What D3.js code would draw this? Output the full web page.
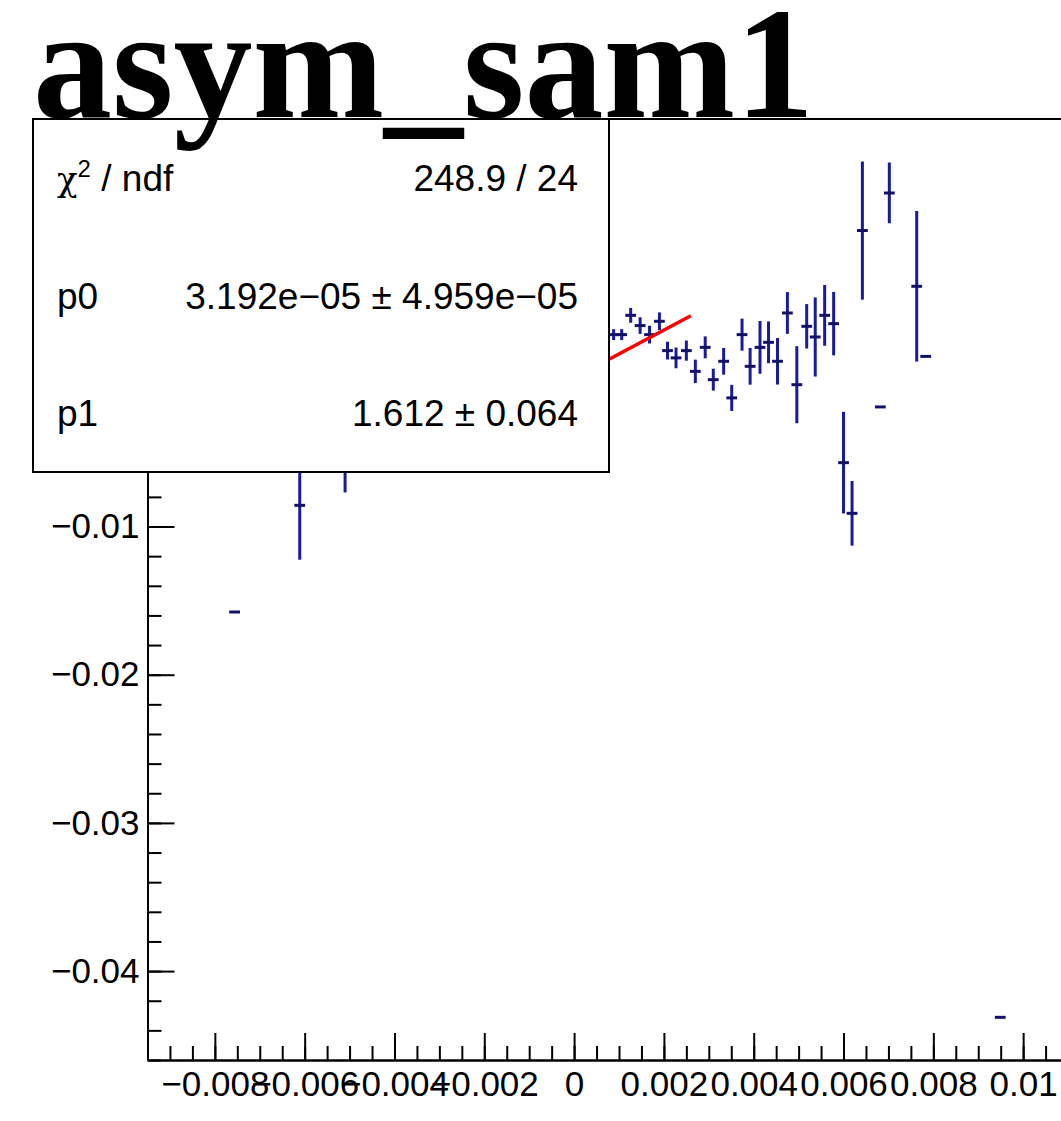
<!DOCTYPE html>
<html lang="en">
<head>
<meta charset="UTF-8">
<title>asym_sam1</title>
<script src="https://d3js.org/d3.v7.min.js"></script>
<style>
  body { margin: 0; background: #fff; }
  svg { display: block; }
</style>
</head>
<body>
<div id="chart"></div>
<script>
// bin centres, values and vertical errors
const xValues = [-0.00756, -0.00611, -0.00510,
  0.00088, 0.00106, 0.00126, 0.00147, 0.00168, 0.00190, 0.00208, 0.00227, 0.00250, 0.00270,
  0.00292, 0.00310, 0.00333, 0.00351, 0.00374, 0.00392, 0.00414, 0.00433, 0.00453, 0.00475,
  0.00496, 0.00518, 0.00537, 0.00558, 0.00578, 0.00600, 0.00619, 0.00642, 0.00682, 0.00702,
  0.00763, 0.00783, 0.00949];
const yValues = [-0.01576, -0.00857, -0.00450,
  0.00295, 0.00295, 0.00425, 0.00356, 0.00295, 0.00385, 0.00187, 0.00138, 0.00187, 0.00047,
  0.00209, -0.00009, 0.00115, -0.00132, 0.00295, 0.00081, 0.00209, 0.00243, 0.00115, 0.00441,
  -0.00043, 0.00351, 0.00279, 0.00425, 0.00369, -0.00569, -0.00911, 0.00997, -0.00193, 0.01251,
  0.00621, 0.00148, -0.04312];
const yErrors = [0, 0.00367, 0.00320,
  0.00037, 0.00037, 0.00050, 0.00056, 0.00060, 0.00060, 0.00060, 0.00070, 0.00068, 0.00079,
  0.00074, 0.00074, 0.00090, 0.00088, 0.00108, 0.00124, 0.00178, 0.00141, 0.00157, 0.00141,
  0.00260, 0.00150, 0.00267, 0.00205, 0.00214, 0.00343, 0.00218, 0.00466, 0, 0.00205,
  0.00508, 0, 0];
const binHalfWidth = 0.00012;

// fit pol1: p0 + p1*x
const fitP0 = 3.192e-05;
const fitP1 = 1.612;
const fitRange = [-0.0026, 0.0026];

const title = "asym_sam1";
const statLabels = ["χ2 / ndf", "p0", "p1"];
const statValues = ["248.9 / 24", "3.192e\u221205 \u00b1 4.959e\u221205", "1.612 \u00b1 0.064"];

const xDomain = [-0.0095, 0.0115];
const yDomain = [-0.046, 0.0175];
const xTicks = [-0.008, -0.006, -0.004, -0.002, 0, 0.002, 0.004, 0.006, 0.008, 0.01];
const xTickLabels = ["\u22120.008", "\u22120.006", "\u22120.004", "\u22120.002", "0", "0.002", "0.004", "0.006", "0.008", "0.01"];
const yTicks = [-0.04, -0.03, -0.02, -0.01, 0, 0.01];
const yTickLabels = ["\u22120.04", "\u22120.03", "\u22120.02", "\u22120.01", "0", "0.01"];

const width = 1061, height = 1121;
const plotL = 147.5, plotR = 1090.5, plotT = 119, plotB = 1060;
const blue = "#1a1a9e";

const svg = d3.select("#chart").append("svg")
  .attr("width", width).attr("height", height);

const x = d3.scaleLinear().domain(xDomain).range([plotL, plotR]);
const y = d3.scaleLinear().domain(yDomain).range([plotB, plotT]);

svg.append("defs").append("clipPath").attr("id", "frame")
  .append("rect").attr("x", plotL).attr("y", plotT)
  .attr("width", plotR - plotL).attr("height", plotB - plotT);

// frame top line
svg.append("line")
  .attr("x1", plotL).attr("x2", plotR).attr("y1", plotT).attr("y2", plotT)
  .attr("stroke", "#000").attr("stroke-width", 2);

// axes, ticks pointing inwards
const xMinor = d3.range(-0.0095, 0.0115, 0.0005);
const yMinor = d3.range(-0.046, 0.0175, 0.002);

const xAxisMinor = svg.append("g").attr("transform", `translate(0,${plotB})`)
  .call(d3.axisBottom(x).tickValues(xMinor).tickSizeInner(-14).tickSizeOuter(0).tickFormat(""));
const xAxis = svg.append("g").attr("transform", `translate(0,${plotB})`)
  .call(d3.axisBottom(x).tickValues(xTicks).tickSizeInner(-27).tickSizeOuter(0)
    .tickPadding(11).tickFormat((d, i) => xTickLabels[i]));

const yAxisMinor = svg.append("g").attr("transform", `translate(${plotL},0)`)
  .call(d3.axisLeft(y).tickValues(yMinor).tickSizeInner(-14).tickSizeOuter(0).tickFormat(""));
const yAxis = svg.append("g").attr("transform", `translate(${plotL},0)`)
  .call(d3.axisLeft(y).tickValues(yTicks).tickSizeInner(-27).tickSizeOuter(0)
    .tickPadding(8).tickFormat((d, i) => yTickLabels[i]));

[xAxisMinor, xAxis, yAxisMinor, yAxis].forEach(g => {
  g.attr("font-family", "'Liberation Sans', Arial, sans-serif").attr("font-size", 35);
  g.selectAll("line").attr("stroke", "#000").attr("stroke-width", 2);
  g.select(".domain").attr("stroke", "#000").attr("stroke-width", 2);
  g.selectAll("text").attr("fill", "#000");
});

// data points with error bars
const pts = xValues.map((v, i) => ({ x: v, y: yValues[i], e: yErrors[i] }));
const data = svg.append("g").attr("clip-path", "url(#frame)");

data.selectAll(".ev").data(pts.filter(d => d.e > 0)).join("line")
  .attr("class", "ev")
  .attr("x1", d => x(d.x)).attr("x2", d => x(d.x))
  .attr("y1", d => y(d.y - d.e)).attr("y2", d => y(d.y + d.e))
  .attr("stroke", blue).attr("stroke-width", 3);

data.selectAll(".eh").data(pts).join("line")
  .attr("class", "eh")
  .attr("x1", d => x(d.x - binHalfWidth)).attr("x2", d => x(d.x + binHalfWidth))
  .attr("y1", d => y(d.y)).attr("y2", d => y(d.y))
  .attr("stroke", "#121268").attr("stroke-width", 3);

// fit line
data.append("path")
  .datum(fitRange)
  .attr("d", d3.line().x(d => x(d)).y(d => y(fitP0 + fitP1 * d)))
  .attr("fill", "none").attr("stroke", "#ff0000").attr("stroke-width", 3.5);

// stat box
const box = { x: 33, y: 119, w: 576, h: 353 };
const stats = svg.append("g").attr("font-family", "'Liberation Sans', Arial, sans-serif")
  .attr("font-size", 37).attr("fill", "#000");
stats.append("rect")
  .attr("x", box.x).attr("y", box.y).attr("width", box.w).attr("height", box.h)
  .attr("fill", "#fff").attr("stroke", "#000").attr("stroke-width", 2);

const rowH = box.h / statLabels.length;
statLabels.forEach((lab, i) => {
  const yb = box.y + rowH * (i + 0.5) + 13;
  const t = stats.append("text").attr("x", 57).attr("y", yb);
  if (i === 0) {
    t.append("tspan").attr("font-family", "'DejaVu Serif', serif").attr("font-size", 34).text("χ");
    t.append("tspan").attr("font-size", 24).attr("dy", -14).text("2");
    t.append("tspan").attr("dy", 14).text(" / ndf");
  } else {
    t.text(lab);
  }
  stats.append("text").attr("x", 578).attr("y", yb)
    .attr("text-anchor", "end").text(statValues[i]);
});

// title
svg.append("text")
  .attr("x", 33).attr("y", 117)
  .attr("font-family", "'Liberation Serif', 'Times New Roman', serif")
  .attr("font-weight", "bold").attr("font-size", 158)
  .text(title);
</script>
</body>
</html>
